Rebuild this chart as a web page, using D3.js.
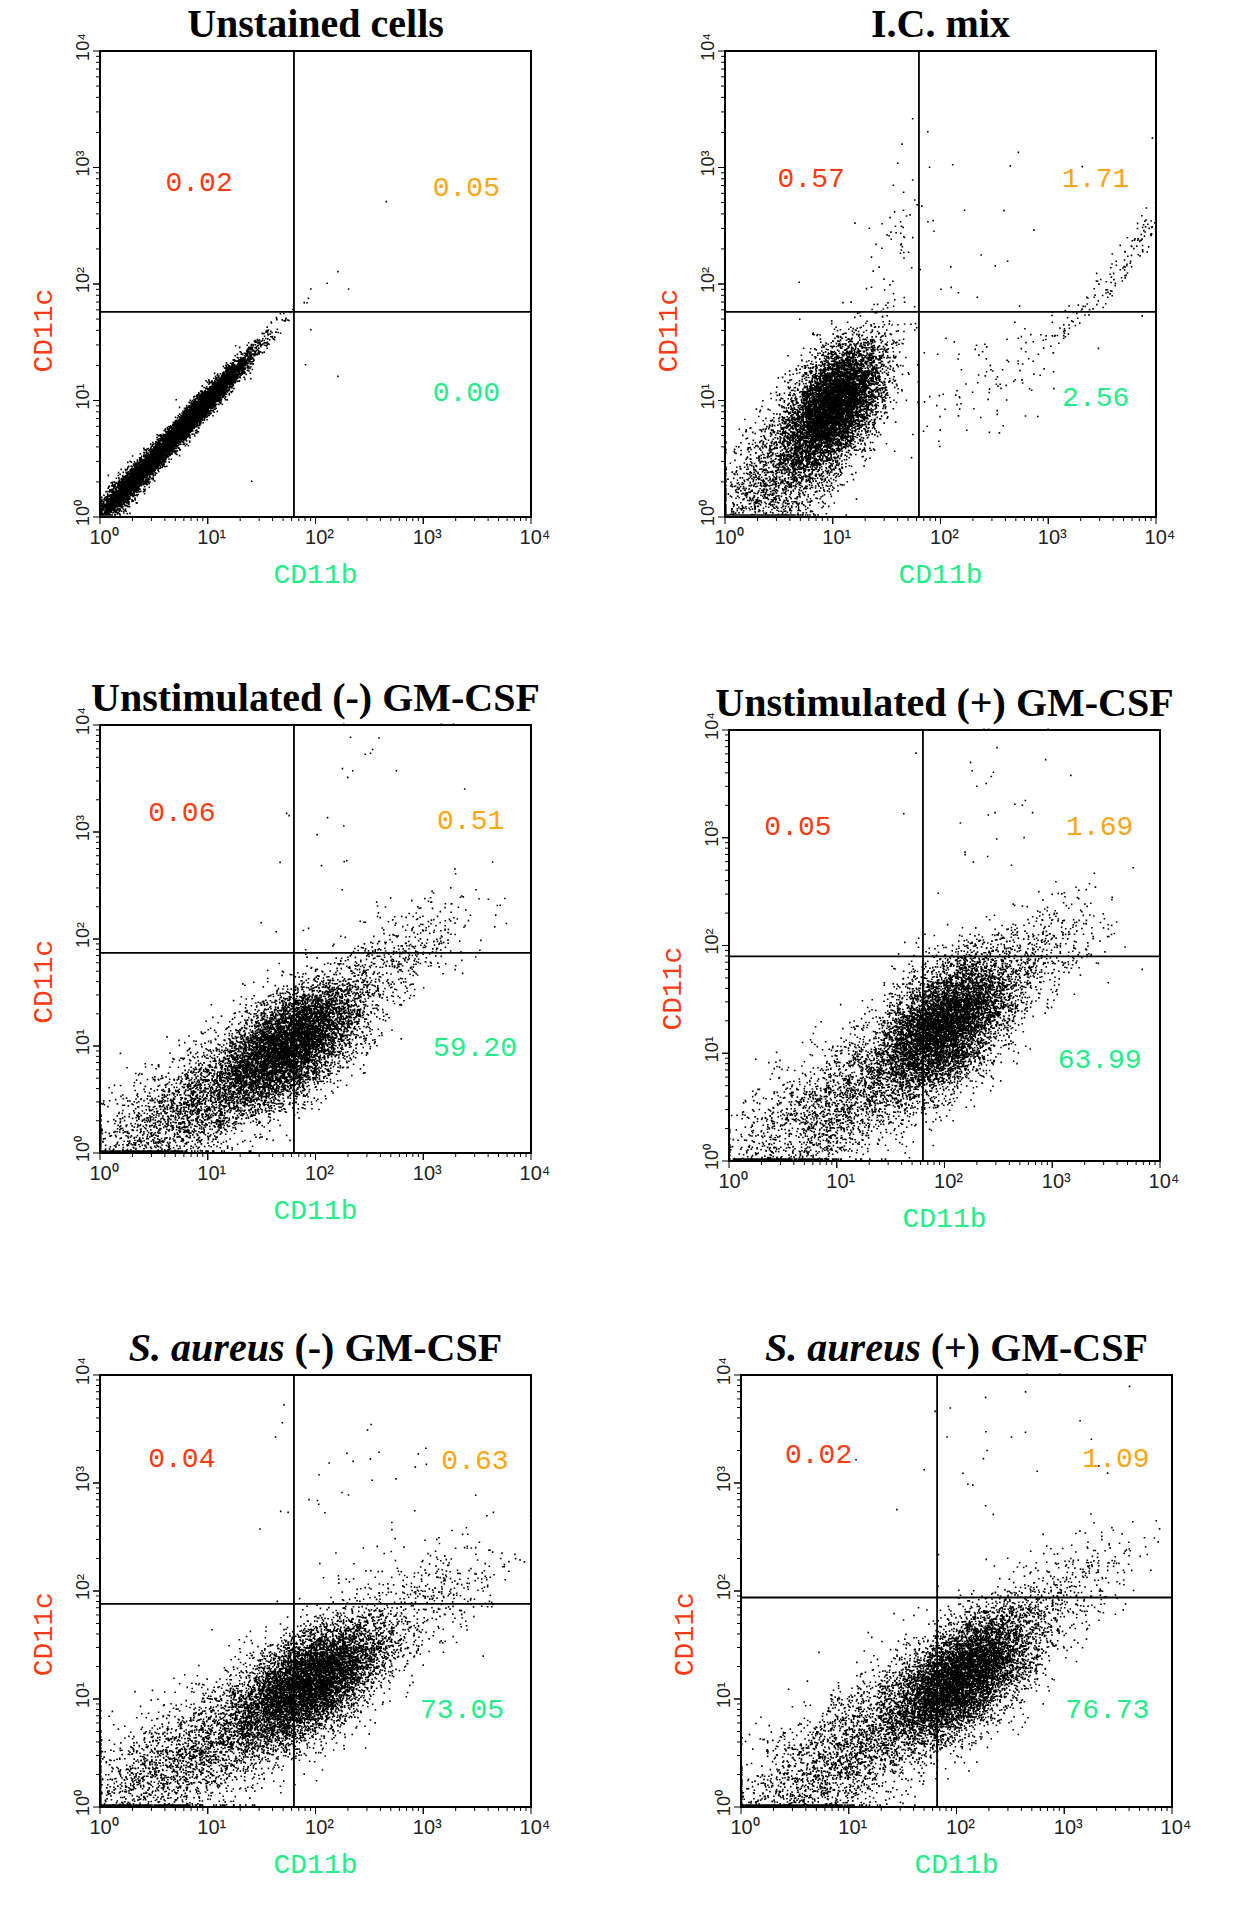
<!DOCTYPE html>
<html><head><meta charset="utf-8">
<script src="https://cdn.jsdelivr.net/npm/d3@7"></script>
<style>body{margin:0;background:#fff}</style>
</head><body>
<svg id="chart" width="1257" height="1915"></svg>
<script>
// panel titles (italic part, rest)
var titles = [["", "Unstained cells"], ["", "I.C. mix"], ["", "Unstimulated (-) GM-CSF"],
  ["", "Unstimulated (+) GM-CSF"], ["S. aureus", " (-) GM-CSF"], ["S. aureus", " (+) GM-CSF"]];
// quadrant percentages: upper-left, upper-right, lower-right
var pctUL = ["0.02", "0.57", "0.06", "0.05", "0.04", "0.02"];
var pctUR = ["0.05", "1.71", "0.51", "1.69", "0.63", "1.09"];
var pctLR = ["0.00", "2.56", "59.20", "63.99", "73.05", "76.73"];
// quadrant gates (log10 decades)
var gateX = [1.8, 1.8, 1.8, 1.8, 1.8, 1.82];
var gateY = [1.76, 1.76, 1.87, 1.9, 1.88, 1.94];
var tickLabels = ["0", "1", "2", "3", "4"];
// populations: [cx, cy, sdAlong, sdPerp, angleDeg, count] (log10 units)
var pops = [
  [[0.8, 0.8, 0.4, 0.04, 45, 8000], [0.25, 0.25, 0.2, 0.05, 45, 2000]],
  [[1.0, 0.95, 0.3, 0.17, 55, 7500], [0.5, 0.35, 0.4, 0.22, 45, 1800], [1.6, 2.3, 0.4, 0.12, 80, 60], [2.5, 2.4, 0.8, 0.5, 20, 25]],
  [[1.75, 1.0, 0.4, 0.2, 38, 7000], [0.9, 0.45, 0.6, 0.22, 33, 2600], [2.8, 1.85, 0.4, 0.18, 35, 450], [2.2, 2.9, 0.7, 0.4, 60, 30]],
  [[2.0, 1.25, 0.4, 0.22, 45, 7500], [1.0, 0.5, 0.6, 0.25, 35, 2200], [3.0, 2.0, 0.35, 0.2, 40, 350], [2.4, 3.3, 0.6, 0.3, 70, 30]],
  [[1.95, 1.15, 0.4, 0.2, 35, 7500], [0.9, 0.5, 0.7, 0.25, 30, 2800], [3.0, 1.9, 0.45, 0.22, 30, 400], [2.3, 2.8, 0.5, 0.4, 70, 40]],
  [[2.05, 1.2, 0.4, 0.2, 40, 7500], [1.0, 0.5, 0.7, 0.25, 35, 2800], [3.0, 2.0, 0.4, 0.2, 35, 400], [2.5, 3.2, 0.6, 0.4, 60, 30]]
];
// IC mix curved compensation tail
var curveIC = [[2.0, 0.9], [2.5, 1.2], [3.0, 1.5], [3.5, 1.9], [3.8, 2.3], [4.0, 2.6]];
var outliers1 = [[1.95, 1.95], [2.1, 2.0], [2.3, 1.95], [2.2, 2.1], [2.65, 2.7], [1.95, 1.6], [1.9, 1.3], [2.2, 1.2], [1.4, 0.3], [0.7, 1.0]];

// box left, top, height
var boxes = [[100, 51, 466], [725, 51, 466], [100, 725, 428], [729, 730, 431], [100, 1375, 432], [741, 1375, 432]];
var W = 431;
var svg = d3.select("#chart");
var sup = {"0": "\u2070", "1": "\u00b9", "2": "\u00b2", "3": "\u00b3", "4": "\u2074"};

boxes.forEach(function (b, i) {
  var H = b[2];
  var g = svg.append("g").attr("transform", "translate(" + b[0] + "," + b[1] + ")");
  var x = d3.scaleLinear().domain([0, 4]).range([0, W]);
  var y = d3.scaleLinear().domain([0, 4]).range([H, 0]);

  var t = g.append("text").attr("x", W / 2).attr("y", -14).attr("text-anchor", "middle")
    .style("font-family", "Liberation Serif").style("font-weight", "bold").style("font-size", "40px");
  if (titles[i][0]) t.append("tspan").style("font-style", "italic").text(titles[i][0]);
  t.append("tspan").text(titles[i][1]);

  // points
  var rn = d3.randomNormal.source(d3.randomLcg(0.1 + i * 0.13))(0, 1);
  var pts = [];
  pops[i].forEach(function (p) {
    var a = p[4] * Math.PI / 180;
    for (var k = 0; k < p[5]; k++) {
      var u = rn() * p[2], v = rn() * p[3];
      pts.push([p[0] + u * Math.cos(a) - v * Math.sin(a), p[1] + u * Math.sin(a) + v * Math.cos(a)]);
    }
  });
  if (i === 1) {
    for (var k = 0; k < 260; k++) {
      var s = (k / 260) * (curveIC.length - 1), j = Math.floor(s), f = s - j;
      var p0 = curveIC[j], p1 = curveIC[Math.min(j + 1, curveIC.length - 1)];
      var jit = (j < 2 ? 0.2 : 0.06);
      pts.push([p0[0] + (p1[0] - p0[0]) * f + rn() * jit, p0[1] + (p1[1] - p0[1]) * f + rn() * jit]);
    }
  }
  if (i === 0) pts = pts.concat(outliers1);
  var path = "";
  pts.forEach(function (p) {
    var px = x(Math.max(0, Math.min(3.99, p[0]))), py = y(Math.max(0.01, Math.min(4, p[1])));
    path += "M" + px.toFixed(1) + " " + (py - 1.6).toFixed(1) + "h1.6v1.6h-1.6z";
  });
  g.append("path").attr("d", path).attr("fill", "#000");

  g.append("rect").attr("width", W).attr("height", H).attr("fill", "none").attr("stroke", "#000").attr("stroke-width", 2);
  g.append("line").attr("x1", x(gateX[i])).attr("x2", x(gateX[i])).attr("y1", 0).attr("y2", H).attr("stroke", "#000").attr("stroke-width", 1.8);
  g.append("line").attr("y1", y(gateY[i])).attr("y2", y(gateY[i])).attr("x1", 0).attr("x2", W).attr("stroke", "#000").attr("stroke-width", 1.8);

  // minor log ticks
  var minors = [];
  for (var d = 0; d < 4; d++) for (var m = 1; m <= 10; m++) minors.push(d + Math.log10(m));
  minors.forEach(function (v) {
    var major = Math.abs(v - Math.round(v)) < 1e-9;
    g.append("line").attr("x1", x(v)).attr("x2", x(v)).attr("y1", H).attr("y2", H + (major ? 7 : 4)).attr("stroke", "#000");
    g.append("line").attr("y1", y(v)).attr("y2", y(v)).attr("x1", 0).attr("x2", -(major ? 7 : 4)).attr("stroke", "#000");
  });
  tickLabels.forEach(function (tl, k) {
    g.append("text").attr("x", x(k) + 4).attr("y", H + 27).attr("text-anchor", "middle")
      .style("font-family", "Liberation Sans").style("font-size", "20px").style("fill", "#222").text("10" + sup[tl]);
    g.append("text").attr("transform", "translate(-11," + (y(k) - 4) + ") rotate(-90)").attr("text-anchor", "middle")
      .style("font-family", "Liberation Sans").style("font-size", "18px").style("fill", "#222").text("10" + sup[tl]);
  });

  var lbl = function (txt, fx, fy, col) {
    g.append("text").attr("x", fx * W).attr("y", fy * H + 10).attr("text-anchor", "middle")
      .style("font-family", "Liberation Mono").style("font-size", "28px").style("fill", col).text(txt);
  };
  var pos = [[[.23, .28], [.85, .29], [.85, .73]], [[.2, .27], [.86, .27], [.86, .74]], [[.19, .2], [.86, .22], [.87, .75]],
    [[.16, .22], [.86, .22], [.86, .76]], [[.19, .19], [.87, .195], [.84, .77]], [[.18, .18], [.87, .19], [.85, .77]]][i];
  lbl(pctUL[i], pos[0][0], pos[0][1], "#ff3a10");
  lbl(pctUR[i], pos[1][0], pos[1][1], "#ffa510");
  lbl(pctLR[i], pos[2][0], pos[2][1], "#22ee88");

  g.append("text").attr("x", W / 2).attr("y", H + 66).attr("text-anchor", "middle")
    .style("font-family", "Liberation Mono").style("font-size", "28px").style("fill", "#22ee88").text("CD11b");
  g.append("text").attr("transform", "translate(-48," + (H * 0.6) + ") rotate(-90)").attr("text-anchor", "middle")
    .style("font-family", "Liberation Mono").style("font-size", "28px").style("fill", "#ff3a10").text("CD11c");
});
</script>
</body></html>
